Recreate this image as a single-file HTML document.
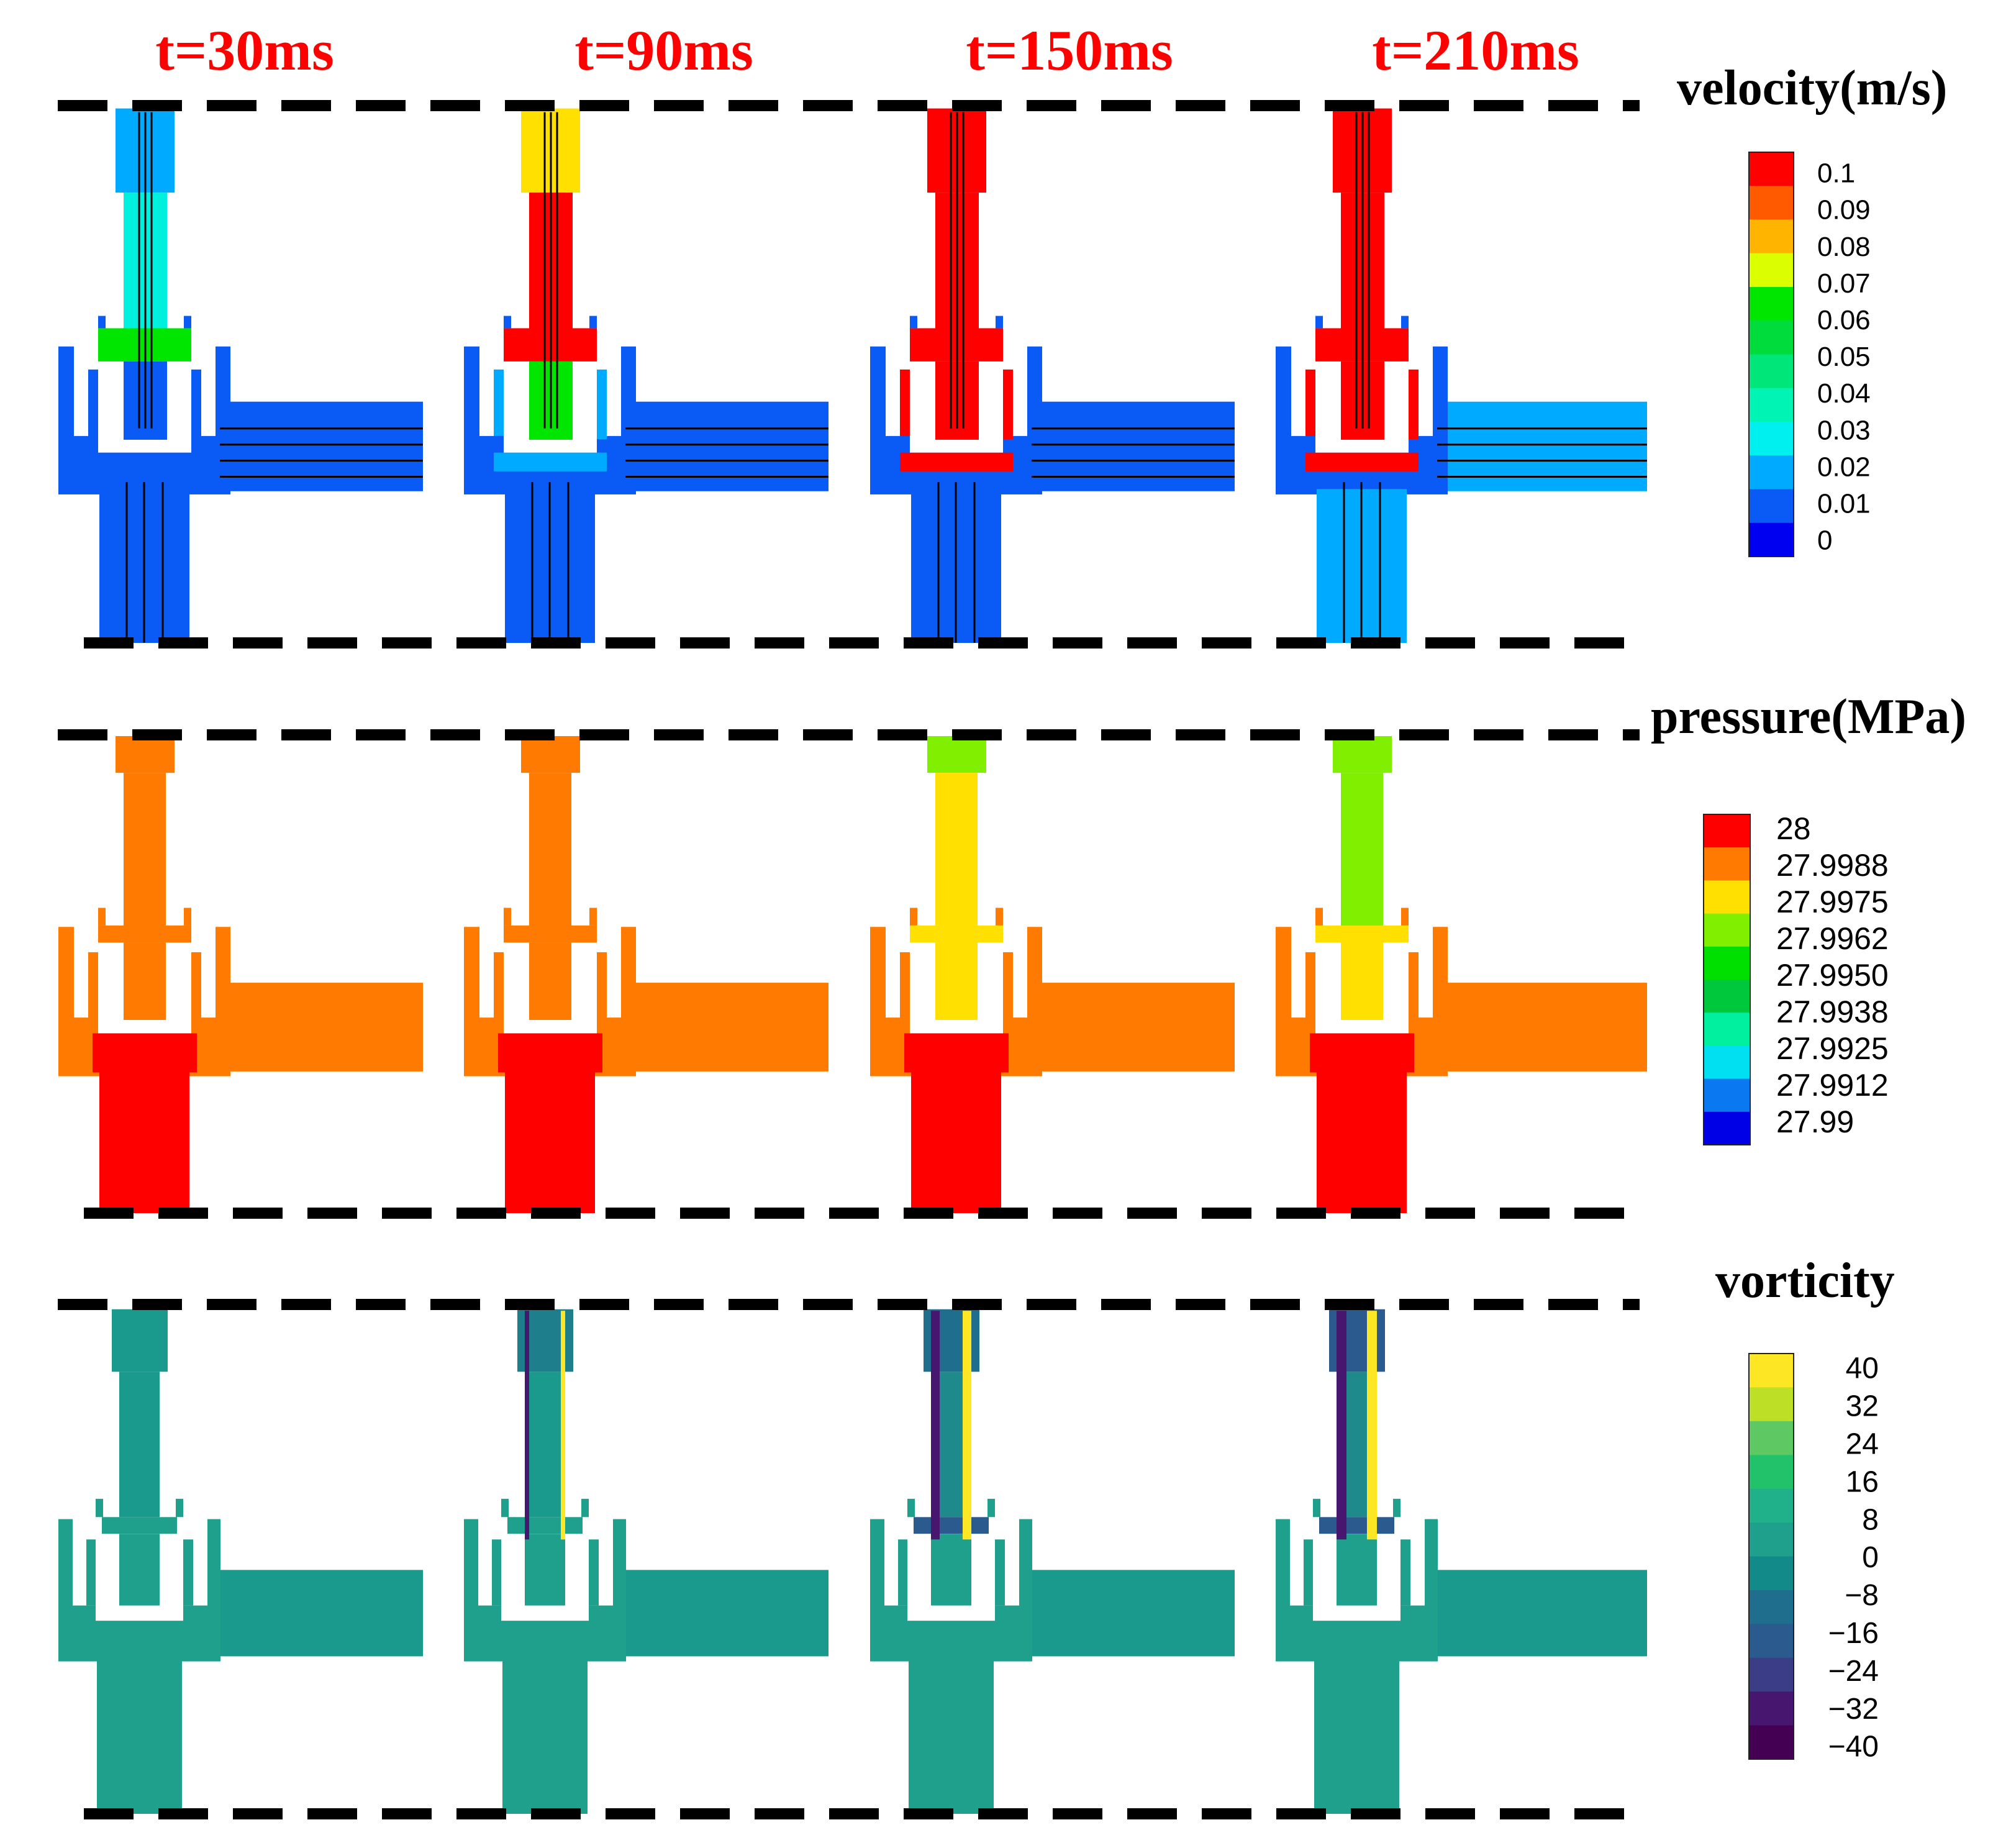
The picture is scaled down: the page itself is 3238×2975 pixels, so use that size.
<!DOCTYPE html>
<html><head><meta charset="utf-8"><style>
html,body{margin:0;padding:0;background:#fff}
svg{display:block}
</style></head><body>
<svg id="fig" xmlns="http://www.w3.org/2000/svg" width="3238" height="2975" viewBox="0 0 3238 2975">
<rect width="3238" height="2975" fill="#fff"/>
</svg>
<script>
const NS='http://www.w3.org/2000/svg';
const svg=document.getElementById('fig');
// data arrays
const times=['t=30ms','t=90ms','t=150ms','t=210ms'];
const velLabels=['0.1','0.09','0.08','0.07','0.06','0.05','0.04','0.03','0.02','0.01','0'];
const velColors=['#ff0000','#ff5a00','#ffb400','#dcff00','#00e600','#00dc3c','#00e678','#00f5b4','#00f0f0','#00aaff','#0a5af5','#0000f0'];
const presLabels=['28','27.9988','27.9975','27.9962','27.9950','27.9938','27.9925','27.9912','27.99'];
const presColors=['#ff0000','#ff7a00','#ffe000','#80f000','#00e000','#00c83c','#00f0a0','#00e0f0','#0a78f0','#0000e6'];
const vortLabels=['40','32','24','16','8','0','\u22128','\u221216','\u221224','\u221232','\u221240'];
const vortColors=['#fde725','#bddf26','#5ec962','#22c26b','#20b08a','#1fa08c','#138a8a','#1f6e8e','#2b5b8e','#3b3e86','#47166e','#440154'];
const colX=[94,747,1401,2054];
const rows=[{yt:172,yb:1035},{yt:1185,yb:1953},{yt:2102,yb:2920}];
// geometry per row: [x1,x2,y1,y2] in px offset / normalized height
const geoms=[
 {noz:[92,187,0.003,0.16],stem:[105,175,0.16,0.475],capTop:[64,214,0.413,0.475],wingL:[64,76,0.39,0.413],wingR:[202,214,0.39,0.413],
  wallL:[0,25,0.447,0.723],wallR:[253,277,0.447,0.723],colL:[48,64,0.49,0.62],colR:[214,230,0.49,0.62],lower:[25,253,0.614,0.723],
  U:[64,214,0.475,0.645],inner:[105,175,0.475,0.621],right:[277,587,0.55,0.717],bottom:[66,211,0.713,1],band:[48,230,0.645,0.68]},
 {noz:[92,187,0,0.077],stem:[105,173,0.077,0.40],capTop:[64,214,0.397,0.433],wingL:[64,76,0.36,0.397],wingR:[202,214,0.36,0.397],
  wallL:[0,25,0.40,0.713],wallR:[253,277,0.40,0.713],colL:[48,64,0.453,0.6],colR:[214,230,0.453,0.6],lower:[25,253,0.59,0.713],
  U:[64,214,0.433,0.623],inner:[105,173,0.433,0.595],right:[277,587,0.517,0.703],bottom:[66,211,0.693,1],band:[55,223,0.623,0.705]},
 {noz:[86,176,0.007,0.13],stem:[98,163,0.13,0.416],capTop:[70,191,0.416,0.449],wingL:[60,72,0.38,0.416],wingR:[189,201,0.38,0.416],
  wallL:[0,23,0.42,0.70],wallR:[240,261,0.42,0.70],colL:[45,60,0.46,0.59],colR:[201,217,0.46,0.59],lower:[23,240,0.59,0.70],
  U:[60,201,0.449,0.62],inner:[98,163,0.449,0.59],right:[261,587,0.52,0.69],bottom:[62,199,0.69,1],band:[45,217,0.62,0.64]}
];
const B='#0a5af5',LB='#00aaff',CY='#00f0e0',R='#ff0000',G='#00e600',Y='#ffe000',O='#ff7a00',GY='#80f000',T='#1fa08c',T2='#1a9a8c',P='#47166e',VY='#fde725';
const panelColors=[
 [{base:B,stem:CY,nozzle:LB,capTop:G,inner:B,right:B,bottom:B},
  {base:B,stem:R,nozzle:Y,capTop:R,inner:G,right:B,bottom:B,ring:LB},
  {base:B,stem:R,nozzle:R,capTop:R,inner:R,right:B,bottom:B,ring:R},
  {base:B,stem:R,nozzle:R,capTop:R,inner:R,right:LB,bottom:LB,ring:R}],
 [{base:O,stem:O,nozzle:O,capTop:O,inner:O,right:O,bottom:R,band:R},
  {base:O,stem:O,nozzle:O,capTop:O,inner:O,right:O,bottom:R,band:R},
  {base:O,stem:Y,nozzle:GY,capTop:Y,inner:Y,right:O,bottom:R,band:R},
  {base:O,stem:GY,nozzle:GY,capTop:Y,inner:Y,right:O,bottom:R,band:R}],
 [{base:T,stem:T2,nozzle:T2,capTop:T,inner:T,right:T2,bottom:T},
  {base:T,stem:T2,nozzle:'#1f7e8c',capTop:T,inner:T,right:T2,bottom:T,edgeL:P,edgeR:VY,ew:7},
  {base:T,stem:'#1f8a8c',nozzle:'#1f6e8e',capTop:'#2b5b8e',inner:T,right:T2,bottom:T,edgeL:P,edgeR:VY,ew:14},
  {base:T,stem:'#1f8a8c',nozzle:'#2b5b8e',capTop:'#2b5b8e',inner:T,right:T2,bottom:T,edgeL:P,edgeR:VY,ew:16}]
];
function el(tag,attrs,parent){const e=document.createElementNS(NS,tag);for(const k in attrs)e.setAttribute(k,attrs[k]);(parent||svg).appendChild(e);return e;}
function rect(g,x0,yt,yb,a,c,name){const h=yb-yt;const r=el('rect',{x:x0+a[0],y:yt+a[2]*h,width:a[1]-a[0],height:(a[3]-a[2])*h,fill:c},g);

return r;}
rows.forEach((row,ri)=>{
 const gm=geoms[ri];
 colX.forEach((x0,ci)=>{
  const c=panelColors[ri][ci];const g=el('g',{});
  
  
  const yt=row.yt,yb=row.yb;const wR=(ci===3?598:587);
  const right=gm.right.slice();right[1]=wR;
  rect(g,x0,yt,yb,gm.noz,c.nozzle,'nozzle');
  rect(g,x0,yt,yb,gm.stem,c.stem,'stem');
  rect(g,x0,yt,yb,gm.capTop,c.capTop,'cap-top');
  rect(g,x0,yt,yb,gm.wingL,c.base,'wing-left');
  rect(g,x0,yt,yb,gm.wingR,c.base,'wing-right');
  rect(g,x0,yt,yb,gm.wallL,c.base,'left-wall');
  rect(g,x0,yt,yb,gm.colL,c.ring||c.base,'left-column');
  rect(g,x0,yt,yb,gm.lower,c.base,'lower-chamber');
  rect(g,x0,yt,yb,gm.band,c.band||c.ring||c.base,'cap-band');
  rect(g,x0,yt,yb,gm.colR,c.ring||c.base,'right-column');
  rect(g,x0,yt,yb,gm.wallR,c.base,'right-wall');
  rect(g,x0,yt,yb,right,c.right,'right-pipe');
  rect(g,x0,yt,yb,gm.bottom,c.bottom,'bottom-pipe');
  rect(g,x0,yt,yb,gm.U,'#fff','valve-cap');
  rect(g,x0,yt,yb,gm.inner,c.inner,'valve-inner');
  if(c.edgeL){const s=gm.stem,ew=c.ew;
   rect(g,x0,yt,yb,[s[0],s[0]+ew,0.01,0.46],c.edgeL,'stem-edge-left');
   rect(g,x0,yt,yb,[s[1]-ew,s[1],0.01,0.46],c.edgeR,'stem-edge-right');}
  if(ri===0){
   const h=yb-yt;
   [130,140,150].forEach(sx=>{el('line',{x1:x0+sx,y1:yt+0.01*h,x2:x0+sx,y2:yt+0.6*h,stroke:'#000','stroke-width':3},g);});
   [110,138,168].forEach(sx=>{el('line',{x1:x0+sx,y1:yt+0.7*h,x2:x0+sx,y2:yb,stroke:'#000','stroke-width':3},g);});
   [0.6,0.63,0.66,0.69].forEach(fy=>{el('line',{x1:x0+260,y1:yt+fy*h,x2:x0+wR,y2:yt+fy*h,stroke:'#000','stroke-width':3},g);});
  }
 });
 const top=el('line',{x1:93,y1:row.yt-2,x2:2640,y2:row.yt-2,stroke:'#000','stroke-width':18,'stroke-dasharray':'80 40'});
 
 
 const bot=el('line',{x1:135,y1:row.yb,x2:2620,y2:row.yb,stroke:'#000','stroke-width':18,'stroke-dasharray':'80 40'});
 
 
});
const timeX=[394,1069,1722,2376];
times.forEach((t,i)=>{const e=el('text',{x:timeX[i],y:112,'text-anchor':'middle','font-family':'Liberation Serif, serif','font-size':92,'font-weight':'bold',fill:'#ff0000'});e.textContent=t;
 
 });
function colorbar(name,title,tx,ty,tfs,x,y,w,h,colors,labels,lx,lfs,anchor,labelTop,labelBottom){
 const t=el('text',{x:tx,y:ty,'font-family':'Liberation Serif, serif','font-size':tfs,'font-weight':'bold',fill:'#000'});t.textContent=title;
 
 
 const n=colors.length;const bh=h/n;
 colors.forEach((c,i)=>{const r=el('rect',{x:x,y:y+i*bh,width:w,height:bh+0.5,fill:c});
  
  });
 el('rect',{x:x,y:y,width:w,height:h,fill:'none',stroke:'#222','stroke-width':2});
 const m=labels.length;
 labels.forEach((l,i)=>{const yy=labelTop+(labelBottom-labelTop)*i/(m-1);
  const e=el('text',{x:lx,y:yy,'font-family':'Liberation Sans, sans-serif','font-size':lfs,fill:'#000','text-anchor':anchor,'dominant-baseline':'middle'});e.textContent=l;
  
  });
}
colorbar('velocity-colorbar','velocity(m/s)',2700,168,80,2816,245,72,651,velColors,velLabels,2926,44,'start',282,873);
colorbar('pressure-colorbar','pressure(MPa)',2658,1180,80,2743,1311,75,532,presColors,presLabels,2860,50,'start',1338,1810);
colorbar('vorticity-colorbar','vorticity',2762,2088,80,2816,2179,72,653,vortColors,vortLabels,3025,48,'end',2206,2815);
</script>
</body></html>
